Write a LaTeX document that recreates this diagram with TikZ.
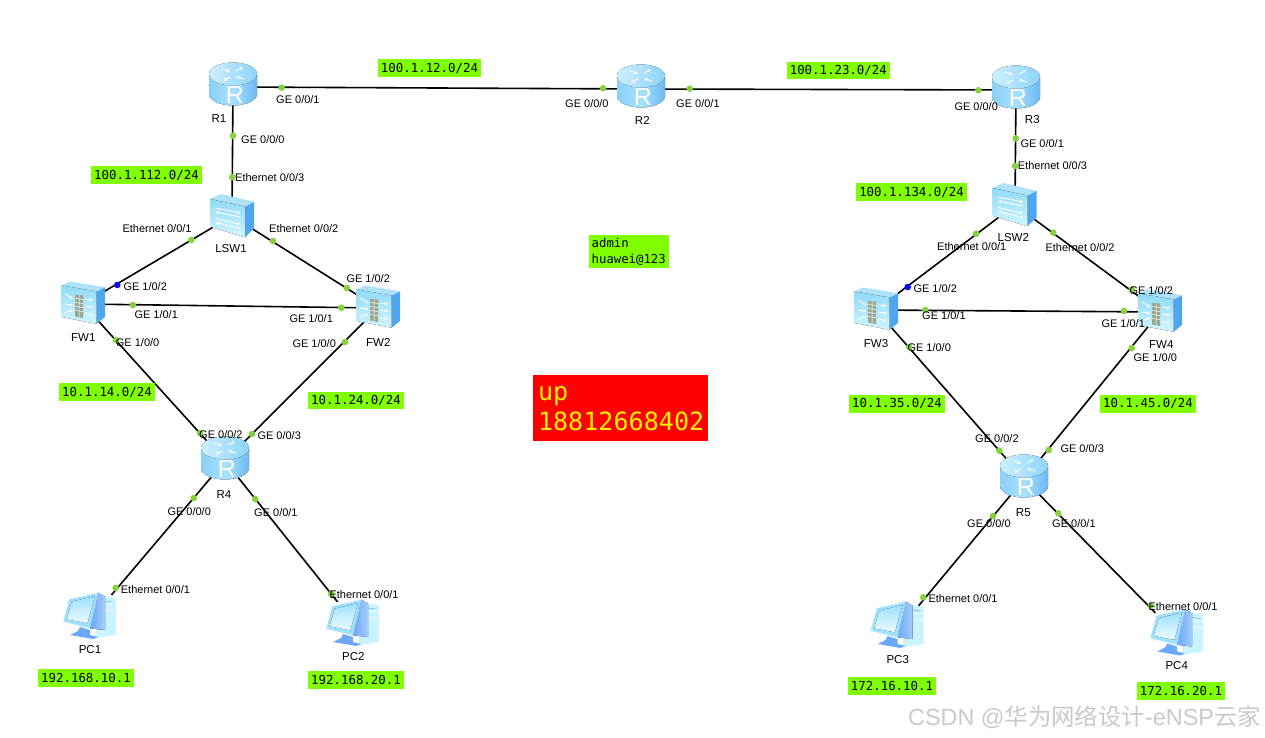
\documentclass[tikz,border=0pt]{standalone}
\usepackage{fontspec}
\setmainfont{Liberation Sans}
\newfontfamily\monof{DejaVu Sans Mono}
\newfontfamily\cjkf{Noto Sans CJK SC}
\usetikzlibrary{arrows.meta}
\definecolor{tagg}{HTML}{7FFF00}
\definecolor{dotg}{HTML}{84D23C}
\definecolor{bluedot}{HTML}{0A0AF0}
\definecolor{bodyL}{HTML}{8AD0F8}
\definecolor{bodyM}{HTML}{A8E2FF}
\definecolor{bodyR}{HTML}{6BB8F2}
\definecolor{topL}{HTML}{CDEFFF}
\definecolor{topD}{HTML}{8CD4F8}
\definecolor{frontL}{HTML}{D2F5FF}
\definecolor{frontD}{HTML}{8EDBF6}
\definecolor{sideB}{HTML}{4EA6EF}
\definecolor{wallc}{HTML}{9AA892}
\definecolor{pcback}{HTML}{6BA9F8}
\definecolor{pcpale}{HTML}{C9F4FF}
\definecolor{pcfr}{HTML}{9FE2FF}
\definecolor{marks}{HTML}{C9C9C9}
\tikzset{
  x=1pt,y=-1pt,
  dev/.style={inner sep=0pt,minimum size=20pt,outer sep=0pt},
  pcdev/.style={inner sep=0pt,minimum width=52pt,minimum height=46pt,outer sep=0pt},
  link/.style={draw=black,line width=1.6pt},
  gdot/.style={circle,fill=dotg,inner sep=0pt,minimum size=6.6pt},
  bdot/.style={circle,fill=bluedot,inner sep=0pt,minimum size=6.6pt},
  port/.style={anchor=west,inner sep=0pt,font=\fontsize{11}{13}\selectfont,text=black},
  devlab/.style={inner sep=0pt,font=\fontsize{11.5}{13}\selectfont,text=black},
  tag/.style={fill=tagg,inner sep=0pt,minimum height=17.5pt,font=\monof\fontsize{12.4}{14}\selectfont,text=black},
  wht/.style={draw=white,line width=1pt,-{Latex[length=3pt,width=3.6pt]}},
  whs/.style={draw=white,line width=.9pt,-{Latex[length=3pt,width=4pt]}},
  whf/.style={draw=white,line width=.9pt,-{Latex[length=2.5pt,width=3.5pt]}},
  router/.pic={
    \begin{scope}[shift={(0,-3)}]
      \fill[left color=bodyL,right color=bodyR,middle color=bodyM]
        (-24,-10) -- (-24,10) arc[start angle=180,end angle=0,x radius=24,y radius=11.5] -- (24,-10) -- cycle;
      \fill[left color=topL,right color=topD] (0,-10) ellipse[x radius=24,y radius=11.5];
      \draw[wht] (3,-13) -- (10,-16.5);
      \draw[wht] (-3,-7) -- (-10,-3.5);
      \draw[wht] (-11,-15) -- (-3,-12.5);
      \draw[wht] (11,-5) -- (3,-7.5);
      \node[inner sep=0pt,text=white,font=\fontsize{25}{25}\selectfont] (-letter) at (2,11.2) {R};
    \end{scope}
  },
  switchicon/.pic={
    \fill[sideB] (13.5,-8.8) -- (22.5,-13.8) -- (22.5,12.8) -- (13.5,21.8) -- cycle;
    \fill[topD!70!white] (-21.5,-16.5) -- (-10.8,-21.5) -- (22.5,-13.8) -- (13.5,-8.8) -- cycle;
    \fill[top color=frontD,bottom color=frontL] (-21.5,-16.5) -- (13.5,-8.8) -- (13.5,21.8) -- (-21.5,11.2) -- cycle;
    \draw[whs] (-16,-7.5) -- (9,-2.5);
    \draw[whs] (9,1.5) -- (-16,-3.5);
    \draw[whs] (-16,3) -- (9,9);
    \draw[whs] (9,13) -- (-16,7);
  },
  fwicon/.pic={
    \fill[sideB] (13.7,-12.5) -- (22,-16.8) -- (22,13) -- (13.7,19.8) -- cycle;
    \fill[topD!70!white] (-21.3,-18.5) -- (-13,-22.5) -- (22,-16.8) -- (13.7,-12.5) -- cycle;
    \fill[top color=frontD,bottom color=frontL] (-21.3,-18.5) -- (13.7,-12.5) -- (13.7,19.8) -- (-21.3,13) -- cycle;
    \fill[wallc] (-8,-9.5) -- (0,-8.5) -- (0,14) -- (-8,12.5) -- cycle;
    \draw[white,line width=.5pt] (-8,-5.5) -- (0,-4.5) (-8,-1.5) -- (0,-.5) (-8,2.5) -- (0,3.5) (-8,6.5) -- (0,7.5) (-4,-9) -- (-4,13);
    \draw[whf] (-18,-10) -- (-10,-5);
    \draw[whf] (-18,0) -- (-10,1);
    \draw[whf] (-18,9) -- (-10,6);
    \draw[whf] (2,-5) -- (10,-4);
    \draw[whf] (2,2) -- (10,3);
    \draw[whf] (2,9) -- (10,11);
  },
  pcicon/.pic={
    \begin{scope}[shift={(-2,-2)}]
      \fill[pcpale] (13,-20) -- (26,-17.7) -- (26,19) -- (5,22.3) -- (6,10) -- cycle;
      \draw[white,line width=.7pt] (15,-12) -- (25,-11) (15,-6) -- (25,-5);
      \draw[bodyR,line width=.6pt] (15,-15) -- (23,-14);
      \fill[pcback] (-10,11) -- (0,14) -- (0,19) -- (8,21) -- (3,23) -- (-20,19) -- (-12,15) -- cycle;
      \fill[left color=pcback,right color=pcback!60!white] (8.3,-23.3) -- (15,-19.3) -- (15,14) -- (0,12.3) -- cycle;
      \fill[pcfr] (-20.7,-16.7) -- (8.3,-23.3) -- (0,12.3) -- (-26.7,5.7) -- cycle;
      \fill[top color=pcfr,bottom color=frontL!40!white] (-18.3,-14.3) -- (5,-20) -- (-2.7,7.3) -- (-23.3,3.3) -- cycle;
    \end{scope}
  }
}
\begin{document}
\begin{tikzpicture}
\path[use as bounding box] (0,0) rectangle (1265,738);
% devices (anchors)
\node[dev] (R1) at (233,87) {};
\node[dev] (R2) at (641,89) {};
\node[dev] (R3) at (1016,90) {};
\node[dev] (R4) at (225,461) {};
\node[dev] (R5) at (1024,479) {};
\node[dev] (LSW1) at (232,216) {};
\node[dev] (LSW2) at (1015,205) {};
\node[dev] (FW1) at (83,304) {};
\node[dev] (FW2) at (378,308) {};
\node[dev] (FW3) at (876,310) {};
\node[dev] (FW4) at (1160,312) {};
\node[pcdev] (PC1) at (92,618) {};
\node[pcdev] (PC2) at (356,625) {};
\node[pcdev] (PC3) at (899.6,628.7) {};
\node[pcdev] (PC4) at (1178,636) {};
% connectors
\draw[link] (R1) -- (R2);
\draw[link] (R2) -- (R3);
\draw[link] (R1) -- (LSW1);
\draw[link] (R3) -- (LSW2);
\draw[link] (LSW1) -- (FW1);
\draw[link] (LSW1) -- (FW2);
\draw[link] (FW1) -- (FW2);
\draw[link] (LSW2) -- (FW3);
\draw[link] (LSW2) -- (FW4);
\draw[link] (FW3) -- (FW4);
\draw[link] (FW1) -- (R4);
\draw[link] (FW2) -- (R4);
\draw[link] (FW3) -- (R5);
\draw[link] (FW4) -- (R5);
\draw[link] (R4) -- (PC1);
\draw[link] (R4) -- (PC2);
\draw[link] (R5) -- (PC3);
\draw[link] (R5) -- (PC4);
% interface dots
\node[gdot] (d1) at (281.7,87.7) {};
\node[gdot] (d2) at (233,135.7) {};
\node[gdot] (d3) at (232.3,177) {};
\node[gdot] (d4) at (191.3,240) {};
\node[gdot] (d5) at (273,241) {};
\node[bdot] (d6) at (117.3,285) {};
\node[gdot] (d7) at (132.7,305) {};
\node[gdot] (d8) at (341.3,307.7) {};
\node[gdot] (d9) at (346.7,288) {};
\node[gdot] (d10) at (116,340) {};
\node[gdot] (d11) at (345,342) {};
\node[gdot] (d12) at (603,88.3) {};
\node[gdot] (d13) at (689.7,88.7) {};
\node[gdot] (d14) at (978.3,90.3) {};
\node[gdot] (d15) at (1015.7,138.3) {};
\node[gdot] (d16) at (1015,166) {};
\node[gdot] (d17) at (976,233.7) {};
\node[gdot] (d18) at (1053.3,232.7) {};
\node[bdot] (d19) at (907.7,287) {};
\node[gdot] (d20) at (925.3,310) {};
\node[gdot] (d21) at (1124,311) {};
\node[gdot] (d22) at (1131.7,289.3) {};
\node[gdot] (d23) at (909.3,347) {};
\node[gdot] (d24) at (1131.7,348) {};
\node[gdot] (d25) at (200,433) {};
\node[gdot] (d26) at (252,434) {};
\node[gdot] (d27) at (193.7,498) {};
\node[gdot] (d28) at (255.3,499) {};
\node[gdot] (d29) at (999.3,450.7) {};
\node[gdot] (d30) at (1048.7,450) {};
\node[gdot] (d31) at (993,516) {};
\node[gdot] (d32) at (1058.3,513.3) {};
\node[gdot] (d33) at (115.7,588) {};
\node[gdot] (d34) at (331,593.7) {};
\node[gdot] (d35) at (923.3,597.3) {};
\node[gdot] (d36) at (1150.7,606) {};
% icons
\pic (iR1) at (R1) {router};
\pic (iR2) at (R2) {router};
\pic (iR3) at (R3) {router};
\pic (iR4) at (R4) {router};
\pic (iR5) at (R5) {router};
\pic (iS1) at (231.5,215.5) {switchicon};
\pic (iS2) at (1014,204.5) {switchicon};
\pic (iF1) at (FW1) {fwicon};
\pic (iF2) at (FW2) {fwicon};
\pic (iF3) at (FW3) {fwicon};
\pic (iF4) at (FW4) {fwicon};
\pic (iP1) at (92,618) {pcicon};
\pic (iP2) at (355,625) {pcicon};
\pic (iP3) at (899.5,627) {pcicon};
\pic (iP4) at (1179,634.5) {pcicon};
% device labels
\node[devlab] (tR1) at (219,118.3) {R1};
\node[devlab] (tR2) at (642.3,120.7) {R2};
\node[devlab] (tR3) at (1032.3,119.7) {R3};
\node[devlab] (tR4) at (224,494.7) {R4};
\node[devlab] (tR5) at (1023.3,512.7) {R5};
\node[devlab] (tS1) at (231,248.7) {LSW1};
\node[devlab] (tS2) at (1013.3,237.3) {LSW2};
\node[devlab] (tF1) at (83.3,338) {FW1};
\node[devlab] (tF2) at (378.3,342) {FW2};
\node[devlab] (tF3) at (876,343.7) {FW3};
\node[devlab] (tF4) at (1161.3,345) {FW4};
\node[devlab] (tP1) at (90,650) {PC1};
\node[devlab] (tP2) at (353.3,656.7) {PC2};
\node[devlab] (tP3) at (897.7,659.7) {PC3};
\node[devlab] (tP4) at (1176.7,666) {PC4};
% port labels
\node[port] (l1) at (276,100) {GE 0/0/1};
\node[port] (l2) at (241,140) {GE 0/0/0};
\node[port] (l3) at (235,177.3) {Ethernet 0/0/3};
\node[port] (l4) at (122.3,229) {Ethernet 0/0/1};
\node[port] (l5) at (269,229) {Ethernet 0/0/2};
\node[port] (l6) at (123.3,287) {GE 1/0/2};
\node[port] (l7) at (134.3,315) {GE 1/0/1};
\node[port] (l8) at (289.3,319) {GE 1/0/1};
\node[port] (l9) at (346.3,279) {GE 1/0/2};
\node[port] (l10) at (115.7,342.3) {GE 1/0/0};
\node[port] (l11) at (292.3,344) {GE 1/0/0};
\node[port] (l12) at (565,104) {GE 0/0/0};
\node[port] (l13) at (676,104) {GE 0/0/1};
\node[port] (l14) at (954.3,107) {GE 0/0/0};
\node[port] (l15) at (1020.3,144) {GE 0/0/1};
\node[port] (l16) at (1017.7,166) {Ethernet 0/0/3};
\node[port] (l17) at (937,246.3) {Ethernet 0/0/1};
\node[port] (l18) at (1045.3,247.3) {Ethernet 0/0/2};
\node[port] (l19) at (913.3,289) {GE 1/0/2};
\node[port] (l20) at (922,316) {GE 1/0/1};
\node[port] (l21) at (1101.3,324) {GE 1/0/1};
\node[port] (l22) at (1129.3,291) {GE 1/0/2};
\node[port] (l23) at (907.3,348) {GE 1/0/0};
\node[port] (l24) at (1133.3,358) {GE 1/0/0};
\node[port] (l25) at (199,435) {GE 0/0/2};
\node[port] (l26) at (257.3,436) {GE 0/0/3};
\node[port] (l27) at (167.3,512) {GE 0/0/0};
\node[port] (l28) at (254,513) {GE 0/0/1};
\node[port] (l29) at (975,439) {GE 0/0/2};
\node[port] (l30) at (1060.3,449) {GE 0/0/3};
\node[port] (l31) at (967,524) {GE 0/0/0};
\node[port] (l32) at (1052,524) {GE 0/0/1};
\node[port] (l33) at (120.7,589.3) {Ethernet 0/0/1};
\node[port] (l34) at (329.3,595) {Ethernet 0/0/1};
\node[port] (l35) at (928.3,599) {Ethernet 0/0/1};
\node[port] (l36) at (1148.3,607) {Ethernet 0/0/1};
% network tags
\node[tag,minimum width=111pt] (n1) at (146.5,175) {100.1.112.0/24};
\node[tag,minimum width=102.4pt] (n2) at (429.5,68) {100.1.12.0/24};
\node[tag,minimum width=103.3pt] (n3) at (838.3,70.3) {100.1.23.0/24};
\node[tag,minimum width=111pt] (n4) at (911.5,192) {100.1.134.0/24};
\node[tag,minimum width=95.4pt] (n5) at (107,392) {10.1.14.0/24};
\node[tag,minimum width=95.4pt] (n6) at (356,400.3) {10.1.24.0/24};
\node[tag,minimum width=95.4pt] (n7) at (897,403.8) {10.1.35.0/24};
\node[tag,minimum width=95.4pt] (n8) at (1148,403.8) {10.1.45.0/24};
\node[tag,minimum width=95.4pt] (n9) at (86,678) {192.168.10.1};
\node[tag,minimum width=95.4pt] (n10) at (356,680) {192.168.20.1};
\node[tag,minimum width=87.7pt] (n11) at (892,686) {172.16.10.1};
\node[tag,minimum width=87.7pt] (n12) at (1181,690.8) {172.16.20.1};
\node[fill=tagg,text=black,minimum width=80pt,minimum height=33.3pt,text width=75.2pt,inner xsep=2.4pt,inner ysep=0pt,align=left,font=\monof\fontsize{12.3}{15.7}\selectfont] (cred) at (629.3,251.7) {admin\\huawei@123};
\node[fill=red,text=yellow,minimum width=175pt,minimum height=65.7pt,text width=165.6pt,inner xsep=4.7pt,inner ysep=0pt,align=left,font=\monof\fontsize{25.1}{30}\selectfont] (upbox) at (620.8,408.2) {up\\18812668402};
% watermark
\node[anchor=east,inner sep=0pt,text=marks,font=\fontsize{23.4}{26}\selectfont] (wm) at (1261,716.7) {CSDN @{\cjkf 华为网络设计}-eNSP{\cjkf 云家}};
\end{tikzpicture}
\end{document}
